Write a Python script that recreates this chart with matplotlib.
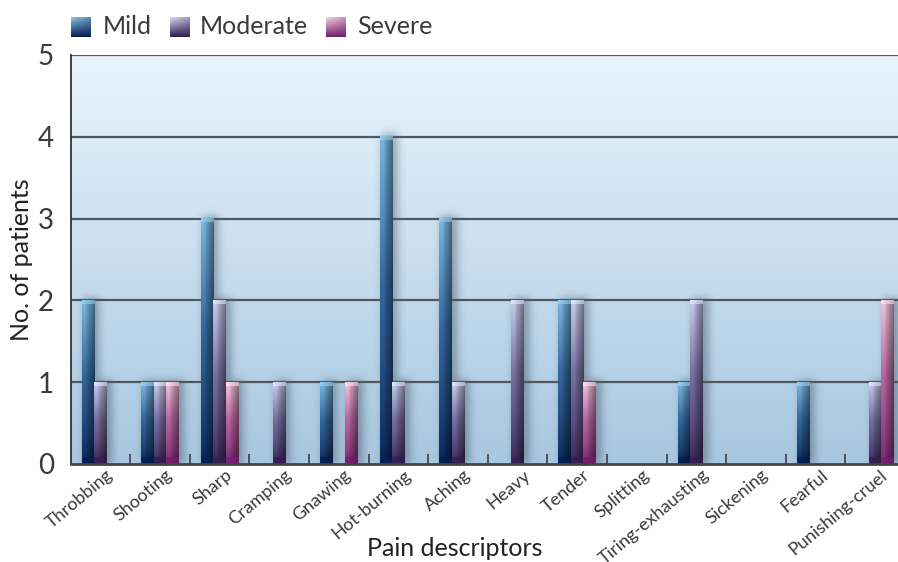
import numpy as np
import matplotlib
matplotlib.use("Agg")
import matplotlib.pyplot as plt
import matplotlib.transforms as mtransforms

categories = ["Throbbing", "Shooting", "Sharp", "Cramping", "Gnawing", "Hot-burning",
              "Aching", "Heavy", "Tender", "Splitting", "Tiring-exhausting",
              "Sickening", "Fearful", "Punishing-cruel"]
series_names = ["Mild", "Moderate", "Severe"]
mild = [2, 1, 3, 0, 1, 4, 3, 0, 2, 0, 1, 0, 1, 0]
moderate = [1, 1, 2, 1, 0, 1, 1, 2, 2, 0, 2, 0, 0, 1]
severe = [0, 1, 1, 0, 1, 0, 0, 0, 1, 0, 0, 0, 0, 2]
y_ticks = [0, 1, 2, 3, 4, 5]

# (light top colour, mid colour, dark bottom colour) for each series
palettes = {
    "Mild": ((0.55, 0.78, 0.92), (0.30, 0.55, 0.76), (0.02, 0.12, 0.32)),
    "Moderate": ((0.85, 0.87, 0.97), (0.60, 0.60, 0.78), (0.20, 0.12, 0.32)),
    "Severe": ((0.98, 0.84, 0.90), (0.85, 0.55, 0.74), (0.45, 0.12, 0.42)),
}

FONT = "Lato"
TXT = "#3a3a3a"
W, H = 898, 562
fig = plt.figure(figsize=(W / 100, H / 100), dpi=100)
ax_left, ax_right, ax_top, ax_bot = 70.5, 905.0, 55.0, 464.0
ax = fig.add_axes([ax_left / W, (H - ax_bot) / H, (ax_right - ax_left) / W, (ax_bot - ax_top) / H])
ncat = len(categories)
ax.set_xlim(0, ncat)
ax.set_ylim(0, 5)

# background gradient
top_c = np.array([0.91, 0.96, 0.99])
bot_c = np.array([0.66, 0.78, 0.88])
t = np.linspace(0, 1, 256)[:, None]
bg = bot_c[None, :] * (1 - t) + top_c[None, :] * t
bg = np.repeat(bg[:, None, :], 2, axis=1)
ax.imshow(bg, extent=[0, ncat, 0, 5], origin="lower", aspect="auto", zorder=0)

# bars (geometry only, filled below with gradients)
bw = 0.21
x = np.arange(ncat) + 0.5
bar_sets = []
for i, (name, vals) in enumerate(zip(series_names, [mild, moderate, severe])):
    bars = ax.bar(x + (i - 1) * bw, vals, bw, color="none", edgecolor="none", zorder=3)
    bar_sets.append((name, bars))

# soft drop shadow behind the bars
px_x = (ax_right - ax_left) / ncat
px_y = (ax_bot - ax_top) / 5
gw, gh = int(ax_right - ax_left), int(ax_bot - ax_top)
mask = np.zeros((gh, gw))
for name, bars in bar_sets:
    for p in bars:
        if p.get_height() <= 0:
            continue
        c0 = int(p.get_x() * px_x) + 2
        c1 = int((p.get_x() + p.get_width()) * px_x) + 5
        r1 = int(p.get_height() * px_y) + 3
        mask[0:min(r1, gh), max(c0, 0):min(c1, gw)] = 1.0
sig = 4.0
k = np.arange(-12, 13)
kern = np.exp(-k ** 2 / (2 * sig ** 2))
kern /= kern.sum()
blur = np.apply_along_axis(lambda r: np.convolve(r, kern, mode="same"), 1, mask)
blur = np.apply_along_axis(lambda r: np.convolve(r, kern, mode="same"), 0, blur)
shadow = np.zeros((gh, gw, 4))
shadow[..., 0] = 0.25
shadow[..., 1] = 0.30
shadow[..., 2] = 0.36
shadow[..., 3] = blur * 0.45
ax.imshow(shadow, extent=[0, ncat, 0, 5], origin="lower", aspect="auto", zorder=1,
          interpolation="bilinear")

# horizontal grid lines
for yv in y_ticks[1:]:
    ax.axhline(yv, color="#4f575f", lw=1.6, zorder=2)


def bar_image(pal, height):
    light, mid, dark = (np.array(c) for c in pal)
    rows = max(int(height * px_y), 4)
    cols = 40
    v = np.linspace(0, 1, rows)[:, None]
    u = np.linspace(0, 1, cols)[None, :]
    # vertical: dark at the base, light near the top
    fv = np.clip(v, 0, 1) ** 0.7
    base = dark[None, None, :] + (mid - dark)[None, None, :] * fv[..., None]
    top_mix = np.clip((v - 0.55) / 0.45, 0, 1)[..., None]
    base = base + (light - mid)[None, None, :] * top_mix * 0.7
    # horizontal: brighter left, darker right edge
    gu = 1.0 - 0.45 * u ** 1.3 + 0.08 * np.exp(-((u - 0.25) ** 2) / 0.02)
    img = base * gu[..., None]
    # darker foot band
    foot_px = 7
    foot = (np.arange(rows)[:, None] < foot_px)
    img = np.where(foot[..., None], dark[None, None, :] * (0.9 + 0.2 * (1 - u[..., None])), img)
    # bright cap
    cap_px = 4
    cap = (np.arange(rows)[:, None] >= rows - cap_px)
    img = np.where(cap[..., None], np.clip(light[None, None, :] * (1.05 - 0.25 * u[..., None]), 0, 1), img)
    return np.clip(img, 0, 1)


for name, bars in bar_sets:
    for p in bars:
        h = p.get_height()
        if h <= 0:
            continue
        img = bar_image(palettes[name], h)
        ax.imshow(img, extent=[p.get_x(), p.get_x() + p.get_width(), 0, h],
                  origin="lower", aspect="auto", zorder=3, interpolation="bilinear")

ax.set_xlim(0, ncat)
ax.set_ylim(0, 5)

# spines
for s in ("top", "right"):
    ax.spines[s].set_visible(False)
ax.spines["left"].set_color("#333333")
ax.spines["left"].set_linewidth(1.3)
ax.spines["bottom"].set_color("#444444")
ax.spines["bottom"].set_linewidth(2.0)
ax.spines["left"].set_zorder(4)
ax.spines["bottom"].set_zorder(4)

# ticks
ax.set_yticks(y_ticks)
ax.set_yticklabels([str(v) for v in y_ticks], fontsize=20, family=FONT,
                   color=TXT)
ax.tick_params(axis="y", length=0, pad=12)
ax.set_xticks(x)
ax.set_xticklabels(categories, rotation=40, ha="right", va="top",
                   rotation_mode="anchor", fontsize=13, family=FONT,
                   color=TXT)
ax.tick_params(axis="x", which="major", length=0, pad=2)
ax.set_xticks(np.arange(1, ncat), minor=True)
ax.tick_params(axis="x", which="minor", direction="in", length=7, width=1.1,
               color="#333333")
shift = mtransforms.ScaledTranslation(5 / 100, 0, fig.dpi_scale_trans)
for lab in ax.get_xticklabels():
    lab.set_transform(lab.get_transform() + shift)

# axis titles
fig.text(455 / W, 1 - 548 / H, "Pain descriptors", ha="center", va="center",
         fontsize=18, family=FONT, color="#222222")
fig.text(22 / W, 1 - 260 / H, "No. of patients", ha="center", va="center",
         rotation=90, fontsize=18, family=FONT, color="#222222")

# legend
legend_items = [("Mild", 71, 103), ("Moderate", 170, 200), ("Severe", 326, 357)]
for name, sx, tx in legend_items:
    sax = fig.add_axes([sx / W, 1 - 37 / H, 20 / W, 20 / H])
    light, mid, dark = (np.array(c) for c in palettes[name])
    n = 32
    v = np.linspace(0, 1, n)[:, None]
    u = np.linspace(0, 1, n)[None, :]
    f = np.clip(v * (1 - 0.35 * u), 0, 1)[..., None]
    sq = dark[None, None, :] + (light - dark)[None, None, :] * f
    sax.imshow(np.clip(sq, 0, 1), origin="lower", aspect="auto", interpolation="bilinear")
    sax.axis("off")
    fig.text(tx / W, 1 - 27 / H, name, ha="left", va="center", fontsize=18,
             family=FONT, color=TXT)

fig.savefig("out.png", dpi=100)
